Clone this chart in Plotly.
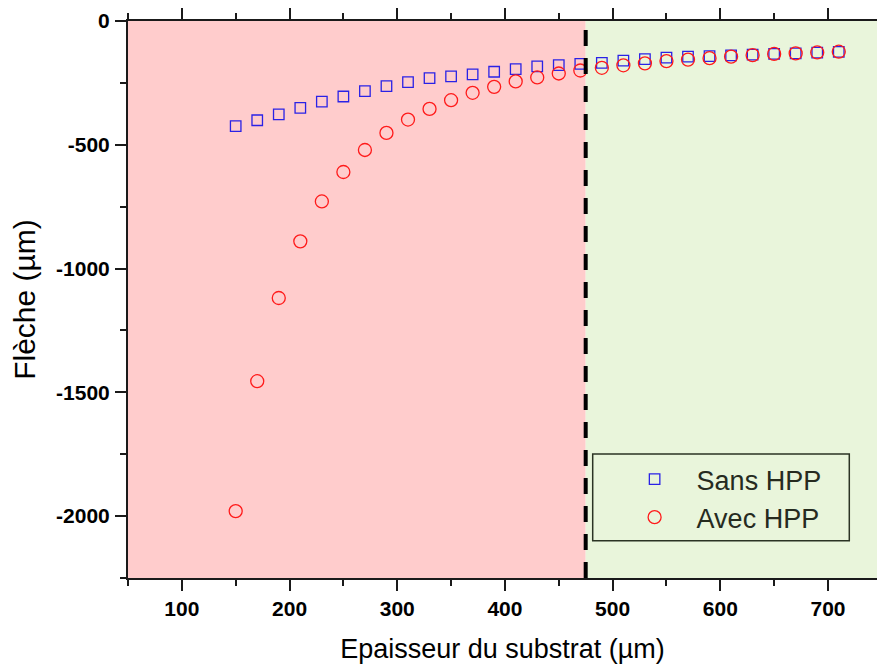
import plotly.graph_objects as go

thickness = [150, 170, 190, 210, 230, 250, 270, 290, 310, 330, 350, 370, 390, 410, 430,
             450, 470, 490, 510, 530, 550, 570, 590, 610, 630, 650, 670, 690, 710]
sans_hpp = [-425, -401, -377, -351, -326, -305, -283, -263, -247, -231, -224, -216, -205,
            -194, -183, -178, -173, -169, -160, -154, -148, -144, -142, -139, -136, -133,
            -131, -128, -125]
avec_hpp = [-1980, -1455, -1119, -890, -729, -610, -521, -452, -398, -355, -320, -290, -266,
            -244, -228, -212, -200, -189, -179, -171, -162, -156, -150, -144, -138, -133,
            -131, -127, -124]
x_ticks = [100, 200, 300, 400, 500, 600, 700]
y_ticks = [0, -500, -1000, -1500, -2000]
y_ticktext = ["0", "-500", "-1000", "-1500", "-2000"]
boundary = 475
x_range = [50, 745.5]
y_range = [-2250, 0]

W, H = 877, 666
ML, MR, MT, MB = 128, 0, 21, 88
PW, PH = W - ML - MR, H - MT - MB

fig = go.Figure()
fig.add_trace(go.Scatter(
    x=thickness, y=sans_hpp, mode="markers", name="Sans HPP", legendgroup="a",
    marker=dict(symbol="square-open", size=10.5, color="#2a22e6", line=dict(width=1.3)),
))
fig.add_trace(go.Scatter(
    x=thickness, y=avec_hpp, mode="markers", name="Avec HPP", legendgroup="b",
    marker=dict(symbol="circle-open", size=13, color="#ff1a1a", line=dict(width=1.3)),
))

shapes = [
    dict(type="rect", xref="x", yref="paper", x0=x_range[0], x1=boundary, y0=0, y1=1,
         fillcolor="#FFCCCC", line=dict(width=0), layer="below"),
    dict(type="rect", xref="x", yref="paper", x0=boundary, x1=x_range[1] + 20, y0=0, y1=1,
         fillcolor="#E9F5DB", line=dict(width=0), layer="below"),
    dict(type="line", xref="x", yref="paper", x0=boundary, x1=boundary, y0=0, y1=1,
         line=dict(color="black", width=4, dash="16px,12px"), layer="above"),
    dict(type="rect", xref="paper", yref="paper",
         x0=(592.7 - ML) / PW, x1=(849.3 - ML) / PW,
         y0=(H - MB - 540.7) / PH, y1=(H - MB - 454) / PH,
         line=dict(color="#2b3324", width=1.5), fillcolor="rgba(0,0,0,0)", layer="above"),
]

tickfont = dict(family="Liberation Sans, Arial", size=21, color="black", weight="bold")
axis_common = dict(
    showgrid=False, zeroline=False, showline=True, linecolor="#1a1a1a", linewidth=2,
    ticks="outside", ticklen=11, tickwidth=2, tickcolor="#1a1a1a",
    tickfont=tickfont, automargin=False,
)

fig.update_layout(
    width=W, height=H,
    margin=dict(l=ML, r=MR, t=MT, b=MB, autoexpand=False),
    paper_bgcolor="white", plot_bgcolor="rgba(0,0,0,0)",
    shapes=shapes,
    showlegend=True,
    legend=dict(
        x=(612.6 - ML) / PW, y=(H - MB - 455) / PH, xanchor="left", yanchor="top",
        bgcolor="rgba(0,0,0,0)", borderwidth=0, itemwidth=74,
        font=dict(family="Liberation Sans, Arial", size=27, color="#262b1f"),
        tracegroupgap=0, traceorder="grouped",
    ),
    xaxis=dict(
        range=x_range, tickvals=x_ticks, mirror="ticks", ticklabelstandoff=0,
        minor=dict(dtick=50, tick0=0, ticks="outside", ticklen=6, tickwidth=2,
                   tickcolor="#1a1a1a"),
        title=dict(text="Epaisseur du substrat (µm)", standoff=20,
                   font=dict(family="Liberation Sans, Arial", size=27, color="black")),
        **axis_common,
    ),
    yaxis=dict(
        range=y_range, tickvals=y_ticks, ticktext=y_ticktext, ticklabelstandoff=1,
        minor=dict(dtick=250, tick0=0, ticks="outside", ticklen=6, tickwidth=2,
                   tickcolor="#1a1a1a"),
        title=dict(text="Flèche (µm)", standoff=12,
                   font=dict(family="Liberation Sans, Arial", size=30, color="black")),
        **axis_common,
    ),
)

fig.write_html("out.html", config={"displayModeBar": False},
               post_script="document.body.style.margin='0px';")
